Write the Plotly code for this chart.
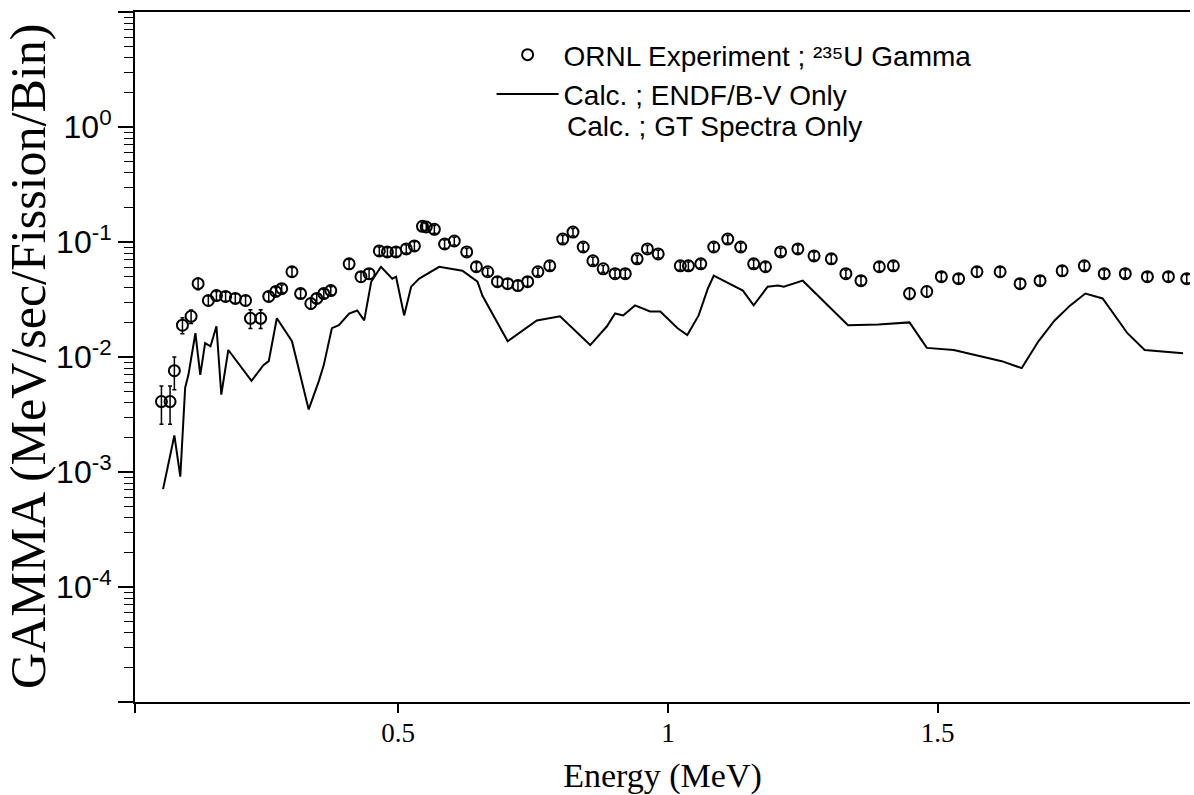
import plotly.graph_objects as go

# ---------------- data ----------------
exp_x = [0.061, 0.077, 0.085, 0.100, 0.116, 0.129, 0.148, 0.163, 0.180, 0.198,
         0.217, 0.226, 0.245, 0.260, 0.273, 0.284, 0.303, 0.319, 0.338, 0.349,
         0.362, 0.375, 0.409, 0.431, 0.446, 0.465, 0.480, 0.496, 0.515, 0.530,
         0.545, 0.552, 0.567, 0.586, 0.604, 0.627, 0.645, 0.666, 0.684, 0.703,
         0.722, 0.740, 0.759, 0.781, 0.805, 0.824, 0.843, 0.861, 0.880, 0.902,
         0.921, 0.943, 0.962, 0.982, 1.023, 1.038, 1.061, 1.085, 1.111, 1.135,
         1.159, 1.181, 1.209, 1.241, 1.271, 1.303, 1.330, 1.358, 1.392, 1.418,
         1.448, 1.480, 1.507, 1.539, 1.573, 1.616, 1.653, 1.690, 1.731, 1.772,
         1.809, 1.848, 1.889, 1.928, 1.962]
exp_y = [0.0041, 0.0041, 0.0076, 0.0189, 0.0226, 0.0434, 0.0310, 0.0342, 0.0336, 0.0323,
         0.0310, 0.0217, 0.0217, 0.0336, 0.0371, 0.0393, 0.0551, 0.0356, 0.0292, 0.0323,
         0.0356, 0.0378, 0.0646, 0.0499, 0.0530, 0.0836, 0.0820, 0.0820, 0.0871, 0.0924,
         0.137, 0.135, 0.129, 0.0961, 0.102, 0.0820, 0.0609, 0.0551, 0.0452, 0.0434,
         0.0418, 0.0452, 0.0551, 0.0621, 0.106, 0.122, 0.0905, 0.0686, 0.0585, 0.0530,
         0.0530, 0.0714, 0.0871, 0.0788, 0.0621, 0.0621, 0.0646, 0.0905, 0.106, 0.0905,
         0.0646, 0.0609, 0.0820, 0.0871, 0.0757, 0.0714, 0.0530, 0.0461, 0.0609, 0.0621,
         0.0356, 0.0371, 0.0499, 0.0480, 0.0551, 0.0551, 0.0434, 0.0461, 0.0562, 0.0621,
         0.0530, 0.0530, 0.0499, 0.0499, 0.0480]
exp_err = [0.0015, 0.0015, 0.0024, 0.003, 0.003, 0.005, 0.003, 0.003, 0.003, 0.003,
           0.003, 0.004, 0.004, 0.003, 0.003, 0.003, 0.005, 0.003, 0.003, 0.003,
           0.003, 0.003, 0.006, 0.005, 0.005, 0.007, 0.007, 0.007, 0.007, 0.008,
           0.01, 0.01, 0.01, 0.008, 0.008, 0.006, 0.005, 0.004, 0.004, 0.004,
           0.004, 0.004, 0.004, 0.005, 0.008, 0.009, 0.007, 0.005, 0.004, 0.004,
           0.004, 0.005, 0.006, 0.006, 0.005, 0.005, 0.005, 0.007, 0.008, 0.007,
           0.005, 0.005, 0.006, 0.007, 0.006, 0.006, 0.004, 0.004, 0.005, 0.005,
           0.004, 0.004, 0.004, 0.004, 0.005, 0.005, 0.004, 0.004, 0.005, 0.005,
           0.004, 0.004, 0.004, 0.004, 0.004]

endf_x = [0.064, 0.085, 0.096, 0.105, 0.111, 0.124, 0.133, 0.142, 0.152, 0.163,
          0.172, 0.185, 0.228, 0.250, 0.260, 0.275, 0.303, 0.334, 0.353, 0.362,
          0.377, 0.390, 0.409, 0.424, 0.437, 0.450, 0.468, 0.489, 0.496, 0.511,
          0.524, 0.539, 0.576, 0.619, 0.647, 0.656, 0.703, 0.757, 0.800, 0.856,
          0.887, 0.902, 0.917, 0.939, 0.967, 0.986, 1.018, 1.036, 1.057, 1.074,
          1.085, 1.139, 1.159, 1.185, 1.204, 1.215, 1.250, 1.334, 1.390, 1.448,
          1.480, 1.530, 1.619, 1.656, 1.687, 1.717, 1.746, 1.774, 1.806, 1.852,
          1.884, 1.955]
endf_y = [0.00071, 0.00208, 0.00091, 0.00541, 0.0070, 0.0161, 0.0070, 0.0132, 0.0124, 0.0185,
          0.0047, 0.0115, 0.0062, 0.0085, 0.0092, 0.0217, 0.0137, 0.0035, 0.0062, 0.0085,
          0.0178, 0.0189, 0.0239, 0.0254, 0.0208, 0.0452, 0.0609, 0.0480, 0.0499, 0.0230,
          0.0409, 0.0480, 0.0609, 0.0562, 0.0452, 0.0342, 0.0137, 0.0208, 0.0226, 0.0127,
          0.0185, 0.0239, 0.0230, 0.0281, 0.0249, 0.0249, 0.0178, 0.0155, 0.0230, 0.0393,
          0.0509, 0.0378, 0.0281, 0.0409, 0.0418, 0.0409, 0.0461, 0.0189, 0.0192, 0.0200,
          0.0120, 0.0115, 0.0092, 0.0080, 0.0137, 0.0208, 0.0281, 0.0356, 0.0323, 0.0161,
          0.0115, 0.0108]

# tick labels
x_tick_vals = [0.012, 0.5, 1, 1.5]
x_tick_text = ["", "0.5", "1", "1.5"]
y_tick_vals = [1e-5, 1e-4, 1e-3, 1e-2, 1e-1, 1e0, 1e1]
y_tick_text = ["", "10<sup>-4</sup>", "10<sup>-3</sup>", "10<sup>-2</sup>",
               "10<sup>-1</sup>", "10<sup>0</sup>", ""]
y_minor_vals = [d * 10.0 ** e for e in range(-5, 1) for d in range(2, 10)]

legend_names = ["ORNL Experiment ; \u00b2\u00b3\u2075U Gamma",
                "Calc. ; ENDF/B-V Only",
                "Calc. ; GT Spectra Only"]

SERIF = "Liberation Serif"
SANS = "Liberation Sans"

fig = go.Figure()
fig.add_trace(go.Scatter(
    x=exp_x, y=exp_y, mode="markers",
    name=legend_names[0],
    marker=dict(symbol="circle-open", size=11, color="black", line=dict(width=2, color="black")),
    error_y=dict(type="data", array=exp_err, color="black", thickness=1.5, width=2),
))
fig.add_trace(go.Scatter(
    x=endf_x, y=endf_y, mode="lines",
    name=legend_names[1],
    line=dict(color="black", width=2),
))

# third legend entry (its curve is not legible in the source)
fig.add_annotation(
    text=legend_names[2], xref="paper", yref="paper",
    x=0.4076, y=0.834, xanchor="left", yanchor="middle", showarrow=False,
    font=dict(family=SANS, size=28, color="black"),
)
# y-axis title
fig.add_annotation(
    text="GAMMA (MeV/sec/Fission/Bin)", xref="paper", yref="paper",
    x=-0.1014, y=0.50, xanchor="center", yanchor="middle", textangle=-90,
    showarrow=False, font=dict(family=SERIF, size=50, color="black"),
)

fig.update_layout(
    width=1194, height=795,
    margin=dict(l=135, r=4, t=12, b=93),
    paper_bgcolor="white", plot_bgcolor="white",
    showlegend=True,
    legend=dict(x=0.338, y=0.974, xanchor="left", yanchor="top",
                font=dict(family=SANS, size=28, color="black"),
                bgcolor="rgba(0,0,0,0)", itemwidth=62),
    font=dict(family=SERIF, color="black"),
)
fig.update_xaxes(
    range=[0.012, 1.968], tickmode="array", tickvals=x_tick_vals, ticktext=x_tick_text,
    ticks="outside", ticklen=9, tickwidth=1.5, tickcolor="black",
    showline=True, linecolor="black", linewidth=2, mirror=True,
    showgrid=False, zeroline=False, automargin=False,
    tickfont=dict(family=SERIF, size=27, color="black"), ticklabelstandoff=-3,
    title=dict(text="Energy (MeV)", font=dict(family=SERIF, size=34, color="black"), standoff=16),
)
fig.update_yaxes(
    type="log", range=[-5, 1], tickmode="array", tickvals=y_tick_vals, ticktext=y_tick_text,
    ticks="outside", ticklen=15, tickwidth=1.5, tickcolor="black",
    minor=dict(ticks="outside", ticklen=9, tickwidth=1.3, tickcolor="black",
               tickmode="array", tickvals=y_minor_vals, showgrid=False),
    showline=True, linecolor="black", linewidth=2,
    showgrid=False, zeroline=False, automargin=False,
    tickfont=dict(family=SANS, size=32, color="black"),
)

fig.write_html("out.html")
